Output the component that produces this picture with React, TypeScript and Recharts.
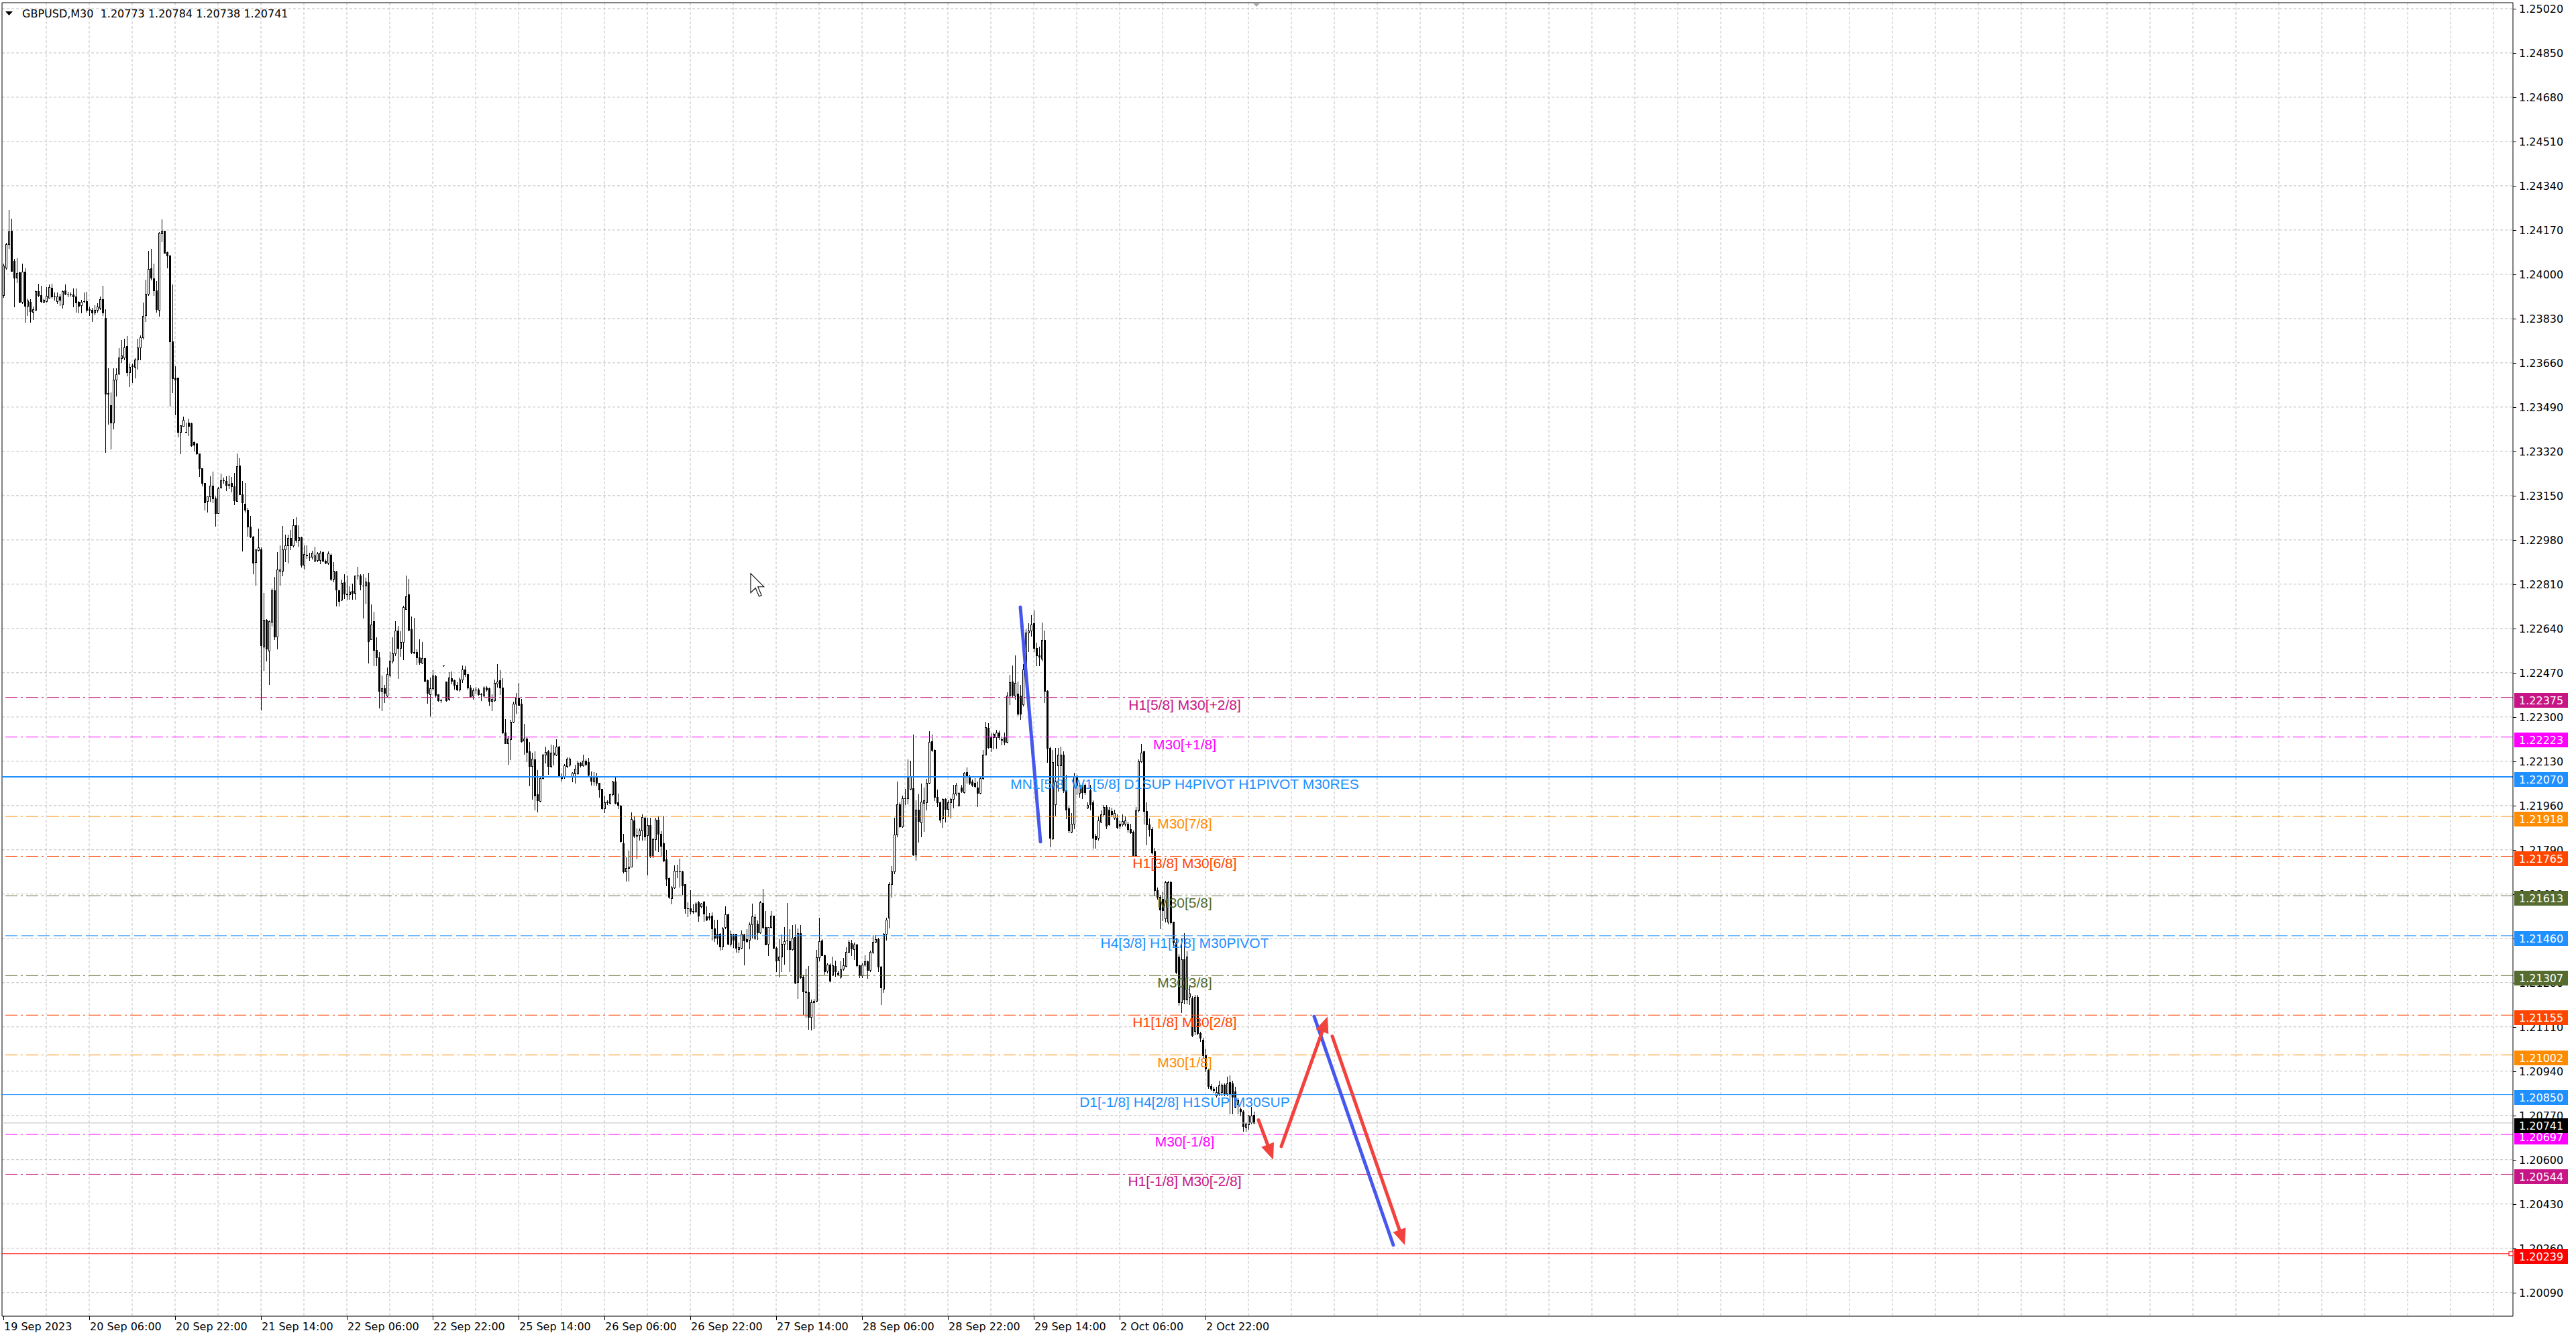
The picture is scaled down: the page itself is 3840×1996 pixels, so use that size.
import React from "react";
import {
  ComposedChart,
  Bar,
  XAxis,
  YAxis,
  CartesianGrid,
  ReferenceLine,
  ReferenceDot,
} from "recharts";

type Ohlc = [number, number, number, number];

// GBPUSD M30 bars, [open, high, low, close] in points above 1.20000
const sep19: Ohlc[] = [
  [3920, 4042, 3913, 4033], [4026, 4120, 4020, 4116], [4116, 4248, 4100, 4165], [4167, 4214, 4013, 4013],
  [4051, 4059, 3875, 3987], [3987, 4062, 3969, 4006], [4008, 4010, 3892, 3894], [3894, 4040, 3888, 4010],
  [4010, 4023, 3817, 3878], [3878, 3907, 3843, 3900], [3894, 3905, 3817, 3858], [3856, 3875, 3827, 3865],
  [3862, 3939, 3862, 3935], [3935, 3963, 3914, 3920], [3920, 3956, 3892, 3897], [3894, 3907, 3892, 3901],
  [3897, 3952, 3894, 3916], [3910, 3961, 3910, 3952], [3948, 3963, 3910, 3914], [3917, 3929, 3901, 3916],
];
const sep20: Ohlc[] = [
  [3897, 3929, 3888, 3914], [3914, 3926, 3881, 3903], [3884, 3938, 3871, 3935], [3939, 3961, 3923, 3926],
  [3925, 3933, 3914, 3924], [3923, 3930, 3916, 3922], [3923, 3946, 3875, 3914], [3914, 3946, 3856, 3892],
  [3894, 3897, 3853, 3878], [3881, 3901, 3853, 3894], [3896, 3929, 3892, 3897], [3897, 3933, 3856, 3862],
  [3865, 3875, 3843, 3864], [3862, 3871, 3820, 3853], [3853, 3881, 3845, 3862], [3862, 3888, 3856, 3875],
  [3871, 3914, 3866, 3905], [3905, 3956, 3843, 3853], [3832, 3866, 3318, 3542], [3543, 3639, 3424, 3542],
  [3497, 3546, 3331, 3430], [3430, 3639, 3407, 3595], [3595, 3639, 3533, 3617], [3619, 3716, 3617, 3679],
  [3678, 3746, 3662, 3688], [3679, 3752, 3672, 3720], [3724, 3762, 3610, 3623], [3623, 3656, 3569, 3645],
  [3649, 3656, 3585, 3648], [3645, 3677, 3604, 3672], [3672, 3752, 3636, 3720], [3720, 3765, 3672, 3757],
  [3757, 3891, 3752, 3840], [3843, 3978, 3819, 3925], [3925, 4090, 3920, 4020], [4023, 4097, 3978, 3987],
  [3984, 4042, 3920, 3939], [3939, 3974, 3855, 3866], [3862, 4162, 3840, 4160], [4158, 4210, 4126, 4167],
  [4167, 4168, 4081, 4083], [4084, 4087, 4026, 4072], [4072, 4075, 3495, 3742], [3742, 3961, 3546, 3600],
  [3604, 3647, 3462, 3595], [3604, 3604, 3376, 3394], [3394, 3420, 3312, 3420], [3417, 3453, 3417, 3440],
];
const sep21: Ohlc[] = [
  [3395, 3430, 3391, 3394], [3430, 3446, 3381, 3417], [3428, 3430, 3340, 3343], [3355, 3359, 3321, 3346],
  [3350, 3350, 3308, 3312], [3312, 3312, 3224, 3256], [3256, 3256, 3188, 3198], [3198, 3198, 3095, 3124],
  [3128, 3147, 3089, 3147], [3147, 3224, 3128, 3188], [3188, 3243, 3124, 3140], [3140, 3147, 3033, 3082],
  [3082, 3183, 3082, 3179], [3183, 3234, 3179, 3209], [3209, 3218, 3198, 3210], [3205, 3224, 3170, 3192],
  [3192, 3227, 3179, 3193], [3198, 3222, 3166, 3185], [3185, 3237, 3115, 3131], [3128, 3312, 3128, 3263],
  [3265, 3295, 3156, 3156], [3156, 3205, 2938, 3124], [3118, 3198, 3089, 3095], [3095, 3102, 2995, 3031],
  [3031, 3072, 2990, 2992], [2992, 2995, 2851, 2892], [2894, 2943, 2806, 2943], [2941, 3024, 2938, 2951],
  [2943, 2951, 2329, 2574], [2570, 2776, 2480, 2673], [2673, 2676, 2516, 2561], [2554, 2670, 2426, 2668],
  [2664, 2793, 2651, 2786], [2786, 2838, 2599, 2608], [2608, 2934, 2561, 2866], [2861, 2960, 2806, 2866],
  [2861, 3033, 2844, 2943], [2943, 2999, 2896, 2960], [2960, 2999, 2892, 2986], [2986, 3018, 2943, 2959],
  [2959, 3059, 2954, 3037], [3037, 3067, 2973, 2979], [2979, 3037, 2956, 2990], [2990, 2992, 2876, 2883],
  [2883, 2960, 2870, 2925], [2921, 2960, 2909, 2922], [2915, 2930, 2902, 2914], [2915, 2938, 2908, 2930],
];
const sep22: Ohlc[] = [
  [2900, 2953, 2896, 2921], [2902, 2934, 2896, 2928], [2902, 2938, 2889, 2930], [2934, 2936, 2897, 2899],
  [2899, 2905, 2890, 2893], [2893, 2936, 2888, 2928], [2922, 2928, 2825, 2830], [2830, 2894, 2819, 2861],
  [2859, 2861, 2727, 2788], [2786, 2790, 2727, 2746], [2750, 2828, 2748, 2815], [2816, 2848, 2756, 2773],
  [2773, 2842, 2752, 2772], [2770, 2802, 2752, 2782], [2784, 2813, 2752, 2775], [2775, 2844, 2752, 2842],
  [2842, 2876, 2830, 2843], [2844, 2848, 2790, 2810], [2805, 2848, 2681, 2804], [2804, 2836, 2738, 2819],
  [2817, 2853, 2508, 2591], [2598, 2733, 2598, 2656], [2669, 2704, 2497, 2557], [2557, 2606, 2497, 2529],
  [2529, 2549, 2336, 2399], [2399, 2460, 2324, 2411], [2411, 2422, 2357, 2393], [2382, 2491, 2380, 2465],
  [2462, 2549, 2453, 2517], [2517, 2606, 2508, 2545], [2545, 2669, 2537, 2633], [2633, 2649, 2449, 2566],
  [2566, 2629, 2534, 2589], [2587, 2727, 2522, 2721], [2715, 2842, 2713, 2764], [2770, 2830, 2633, 2635],
  [2637, 2687, 2545, 2549], [2549, 2681, 2543, 2548], [2549, 2560, 2503, 2529], [2529, 2598, 2503, 2511],
  [2508, 2589, 2506, 2526], [2526, 2526, 2437, 2439], [2442, 2445, 2353, 2391], [2388, 2451, 2304, 2411],
  [2411, 2480, 2405, 2460], [2457, 2462, 2376, 2384], [2388, 2388, 2361, 2365], [2365, 2370, 2357, 2364],
];
const sep25: Ohlc[] = [
  [2497, 2499, 2495, 2497], [2437, 2437, 2361, 2364], [2368, 2471, 2365, 2451], [2448, 2474, 2428, 2439],
  [2442, 2445, 2407, 2422], [2422, 2434, 2402, 2405], [2405, 2451, 2399, 2445], [2445, 2497, 2434, 2483],
  [2483, 2495, 2457, 2465], [2465, 2465, 2407, 2414], [2414, 2422, 2376, 2380], [2382, 2411, 2370, 2402],
  [2405, 2416, 2391, 2404], [2405, 2411, 2384, 2388], [2388, 2393, 2365, 2387], [2382, 2419, 2380, 2414],
  [2414, 2419, 2399, 2405], [2411, 2414, 2345, 2361], [2361, 2388, 2324, 2368], [2365, 2445, 2361, 2430],
  [2428, 2503, 2416, 2437], [2442, 2480, 2388, 2414], [2414, 2448, 2238, 2241], [2241, 2292, 2198, 2200],
  [2200, 2227, 2120, 2218], [2215, 2290, 2138, 2281], [2281, 2359, 2278, 2350], [2350, 2393, 2315, 2373],
  [2373, 2430, 2345, 2347], [2350, 2370, 2204, 2207], [2210, 2273, 2158, 2218], [2218, 2221, 2129, 2166],
  [2169, 2204, 2037, 2112], [2112, 2163, 1985, 2140], [2138, 2169, 1945, 1997], [2002, 2097, 1936, 1979],
  [1977, 2071, 1974, 2066], [2066, 2158, 2062, 2154], [2154, 2186, 2123, 2166], [2169, 2172, 2080, 2112],
  [2112, 2195, 2106, 2163], [2154, 2192, 2117, 2163], [2154, 2215, 2152, 2186], [2186, 2189, 2071, 2074],
  [2074, 2083, 2054, 2066], [2069, 2120, 2066, 2115], [2112, 2146, 2106, 2140], [2117, 2146, 2112, 2140],
];
const sep26: Ohlc[] = [
  [2074, 2089, 2051, 2085], [2083, 2117, 2048, 2100], [2083, 2131, 2080, 2123], [2123, 2126, 2108, 2115],
  [2115, 2154, 2112, 2131], [2131, 2138, 2115, 2120], [2126, 2143, 2069, 2077], [2074, 2092, 2039, 2054],
  [2051, 2089, 2039, 2071], [2074, 2085, 2037, 2046], [2046, 2048, 1993, 2020], [2023, 2023, 1947, 1950],
  [1950, 1997, 1933, 1973], [1973, 1979, 1965, 1974], [1970, 2005, 1968, 2002], [2002, 2054, 1999, 2051],
  [2051, 2069, 1966, 1970], [1973, 2005, 1950, 1962], [1959, 1962, 1821, 1824], [1816, 1850, 1701, 1706],
  [1706, 1761, 1671, 1721], [1721, 1786, 1671, 1726], [1726, 1933, 1724, 1908], [1904, 1922, 1839, 1844],
  [1845, 1873, 1757, 1843], [1845, 1873, 1827, 1864], [1864, 1925, 1827, 1916], [1914, 1919, 1827, 1842],
  [1845, 1914, 1695, 1885], [1885, 1912, 1762, 1765], [1767, 1836, 1762, 1831], [1831, 1912, 1790, 1905],
  [1905, 1919, 1785, 1850], [1850, 1861, 1767, 1804], [1815, 1922, 1746, 1748], [1753, 1790, 1654, 1679],
  [1682, 1684, 1603, 1608], [1605, 1651, 1584, 1645], [1645, 1730, 1642, 1709], [1707, 1734, 1684, 1706],
  [1707, 1757, 1647, 1706], [1706, 1709, 1619, 1654], [1658, 1658, 1547, 1564], [1566, 1589, 1534, 1565],
  [1566, 1636, 1545, 1554], [1552, 1582, 1547, 1556], [1554, 1589, 1550, 1584], [1589, 1593, 1517, 1538],
];
const sep27: Ohlc[] = [
  [1573, 1587, 1568, 1584], [1591, 1593, 1517, 1545], [1534, 1573, 1519, 1522], [1534, 1547, 1522, 1528],
  [1536, 1550, 1444, 1488], [1488, 1522, 1439, 1453], [1467, 1522, 1430, 1451], [1467, 1471, 1405, 1418],
  [1418, 1492, 1409, 1488], [1492, 1573, 1488, 1543], [1543, 1545, 1427, 1430], [1430, 1479, 1420, 1467],
  [1464, 1467, 1416, 1445], [1467, 1467, 1399, 1414], [1409, 1434, 1396, 1416], [1414, 1481, 1411, 1467],
  [1464, 1467, 1350, 1442], [1446, 1485, 1434, 1439], [1444, 1510, 1411, 1504], [1504, 1584, 1451, 1534],
  [1451, 1541, 1446, 1531], [1506, 1519, 1448, 1473], [1473, 1593, 1469, 1589], [1587, 1639, 1488, 1492],
  [1492, 1556, 1425, 1427], [1430, 1494, 1386, 1492], [1492, 1556, 1490, 1536], [1536, 1538, 1411, 1414],
  [1414, 1418, 1324, 1365], [1368, 1448, 1303, 1381], [1381, 1464, 1324, 1430], [1430, 1494, 1351, 1439],
  [1442, 1587, 1407, 1441], [1439, 1485, 1324, 1407], [1407, 1501, 1405, 1453], [1455, 1504, 1277, 1279],
  [1282, 1488, 1220, 1471], [1471, 1501, 1298, 1301], [1303, 1310, 1159, 1245], [1245, 1333, 1148, 1242],
  [1242, 1344, 1102, 1148], [1148, 1215, 1100, 1205], [1205, 1218, 1104, 1211], [1211, 1406, 1208, 1377],
  [1377, 1528, 1365, 1439], [1442, 1446, 1384, 1386], [1386, 1388, 1313, 1324], [1326, 1353, 1319, 1349],
];
const sep28: Ohlc[] = [
  [1349, 1353, 1285, 1287], [1310, 1381, 1307, 1347], [1344, 1365, 1305, 1322], [1319, 1326, 1307, 1313],
  [1303, 1362, 1298, 1331], [1333, 1374, 1328, 1347], [1344, 1416, 1342, 1399], [1399, 1445, 1395, 1436],
  [1432, 1445, 1386, 1411], [1409, 1434, 1370, 1425], [1425, 1430, 1340, 1347], [1347, 1349, 1301, 1307],
  [1307, 1353, 1301, 1349], [1349, 1384, 1344, 1362], [1362, 1365, 1298, 1328], [1328, 1402, 1324, 1397],
  [1397, 1462, 1393, 1436], [1436, 1462, 1434, 1448], [1448, 1451, 1322, 1340], [1340, 1344, 1196, 1261],
  [1257, 1471, 1242, 1467], [1467, 1528, 1444, 1522], [1528, 1665, 1490, 1658], [1658, 1728, 1610, 1707],
  [1707, 1913, 1700, 1848], [1848, 2051, 1842, 1965], [1965, 1972, 1876, 1879], [1879, 1999, 1876, 1988],
  [1988, 2025, 1965, 1987], [1988, 2136, 1968, 2071], [2025, 2131, 2021, 2071], [2027, 2233, 1769, 1771],
  [1771, 1979, 1750, 1944], [1944, 2002, 1820, 1900], [1896, 2044, 1840, 1974], [1971, 2030, 1861, 1979],
  [1972, 2062, 1944, 2048], [2048, 2245, 2044, 2205], [2208, 2233, 2168, 2173], [2173, 2177, 1979, 1993],
  [1993, 2021, 1956, 1972], [1972, 1974, 1896, 1905], [1910, 1988, 1876, 1984], [1986, 1988, 1898, 1947],
  [1947, 1979, 1919, 1972], [1972, 1990, 1912, 1986], [1986, 2039, 1951, 2005], [2005, 2048, 2000, 2039],
];
const sep29: Ohlc[] = [
  [1962, 2012, 1958, 2008], [2030, 2039, 2012, 2016], [2012, 2089, 2008, 2086], [2089, 2106, 2048, 2075],
  [2073, 2079, 2043, 2048], [2052, 2059, 2035, 2039], [2048, 2066, 2030, 2035], [2030, 2052, 1958, 2008],
  [2008, 2073, 2005, 2066], [2066, 2174, 2059, 2154], [2156, 2281, 2154, 2261], [2259, 2275, 2180, 2183],
  [2224, 2237, 2167, 2183], [2221, 2241, 2178, 2234], [2221, 2250, 2180, 2241], [2241, 2248, 2214, 2221],
  [2214, 2224, 2194, 2213], [2221, 2241, 2194, 2205], [2205, 2396, 2201, 2383], [2383, 2463, 2349, 2434],
  [2436, 2497, 2376, 2385], [2383, 2537, 2369, 2430], [2389, 2436, 2308, 2312], [2383, 2423, 2291, 2312],
  [2349, 2504, 2342, 2483], [2483, 2638, 2477, 2625], [2625, 2659, 2551, 2632], [2632, 2690, 2611, 2655],
  [2659, 2710, 2551, 2564], [2564, 2585, 2497, 2537], [2537, 2571, 2497, 2531], [2524, 2663, 2517, 2595],
  [2595, 2632, 2356, 2399], [2399, 2403, 2127, 2180], [2180, 2187, 1801, 1837], [1833, 2174, 1831, 2127],
  [1965, 2180, 1924, 2052], [2113, 2180, 2016, 2156], [2115, 2187, 2073, 2156], [2156, 2167, 2012, 2019],
  [2019, 2079, 1911, 1945], [1949, 1958, 1857, 1864], [1860, 1931, 1857, 1891], [1891, 2086, 1871, 2073],
  [2073, 2079, 2003, 2039], [2008, 2048, 1992, 2039], [2039, 2045, 1989, 2012], [2039, 2045, 2003, 2012],
];
const oct02: Ohlc[] = [
  [1951, 1972, 1948, 1962], [2019, 2039, 1945, 1965], [1972, 1981, 1797, 1837], [1844, 1850, 1797, 1830],
  [1837, 1918, 1828, 1904], [1898, 1941, 1895, 1925], [1925, 1962, 1922, 1954], [1954, 1962, 1873, 1881],
  [1945, 1954, 1884, 1887], [1938, 1951, 1918, 1925], [1914, 1945, 1908, 1931], [1914, 1925, 1871, 1877],
  [1891, 1900, 1873, 1881], [1887, 1927, 1881, 1900], [1891, 1918, 1881, 1904], [1891, 1898, 1860, 1868],
  [1870, 1891, 1854, 1857], [1860, 1864, 1765, 1770], [1770, 1954, 1765, 1941], [1941, 2137, 1935, 2129],
  [2129, 2197, 2127, 2164], [2167, 2170, 1891, 1938], [1938, 1972, 1810, 1887], [1887, 1911, 1844, 1868],
  [1870, 1877, 1774, 1779], [1783, 1796, 1615, 1635], [1635, 1644, 1601, 1608], [1608, 1617, 1487, 1561],
  [1601, 1628, 1520, 1558], [1527, 1671, 1514, 1666], [1514, 1671, 1507, 1666], [1666, 1671, 1507, 1510],
  [1514, 1514, 1419, 1433], [1433, 1453, 1316, 1321], [1380, 1390, 1195, 1205], [1205, 1450, 1165, 1370],
  [1370, 1470, 1200, 1215], [1215, 1400, 1200, 1380], [1224, 1267, 1198, 1237], [1220, 1228, 1074, 1078],
  [1095, 1232, 1082, 1224], [1224, 1232, 1082, 1086], [1086, 1090, 1056, 1069], [1060, 1069, 992, 1001],
  [1001, 1026, 940, 950], [945, 950, 876, 883], [883, 890, 868, 873], [873, 880, 860, 866],
];
const oct03: Ohlc[] = [
  [846, 880, 842, 859], [855, 904, 846, 885], [859, 893, 846, 889], [889, 893, 846, 855],
  [855, 919, 846, 893], [899, 923, 777, 855], [893, 902, 777, 842], [863, 880, 799, 803],
  [829, 837, 777, 812], [795, 799, 769, 784], [784, 790, 709, 728], [726, 743, 709, 739],
  [736, 773, 717, 769], [743, 803, 739, 770], [773, 784, 738, 741],
];

const dateLabels = [
  "19 Sep 2023", "20 Sep 06:00", "20 Sep 22:00", "21 Sep 14:00", "22 Sep 06:00",
  "22 Sep 22:00", "25 Sep 14:00", "26 Sep 06:00", "26 Sep 22:00", "27 Sep 14:00",
  "28 Sep 06:00", "28 Sep 22:00", "29 Sep 14:00", "2 Oct 06:00", "2 Oct 22:00",
];
const dateLabelBars = [0, 32, 64, 96, 128, 160, 192, 224, 256, 288, 320, 352, 384, 416, 448];

const priceTicks = [
  1.2502, 1.2485, 1.2468, 1.2451, 1.2434, 1.2417, 1.24, 1.2383, 1.2366, 1.2349,
  1.2332, 1.2315, 1.2298, 1.2281, 1.2264, 1.2247, 1.223, 1.2213, 1.2196, 1.2179,
  1.2162, 1.2145, 1.2128, 1.2111, 1.2094, 1.2077, 1.206, 1.2043, 1.2026, 1.2009,
];

const levelPrices = [
  1.22375, 1.22223, 1.2207, 1.21918, 1.21765, 1.21613, 1.2146,
  1.21307, 1.21155, 1.21002, 1.2085, 1.20697, 1.20544,
];
const levelNames = [
  "H1[5/8] M30[+2/8]",
  "M30[+1/8]",
  "MN1[5/8] W1[5/8] D1SUP H4PIVOT H1PIVOT M30RES",
  "M30[7/8]",
  "H1[3/8] M30[6/8]",
  "M30[5/8]",
  "H4[3/8] H1[2/8] M30PIVOT",
  "M30[3/8]",
  "H1[1/8] M30[2/8]",
  "M30[1/8]",
  "D1[-1/8] H4[2/8] H1SUP M30SUP",
  "M30[-1/8]",
  "H1[-1/8] M30[-2/8]",
];
const targetPrice = 1.20239;

// hand-drawn swing line and forecast arrows: [bar, price] end points
const swingLine: [number, number][] = [[379, 1.22722], [386.5, 1.21821]];
const forecastBlue: [number, number][] = [[488.5, 1.2115], [518, 1.20272]];
const forecastRed: [number, number][][] = [
  [[467.75, 1.20752], [473.25, 1.206]],
  [[476.25, 1.20651], [493.5, 1.2115]],
  [[495.25, 1.21074], [522.25, 1.20272]],
];
const cursorAt: [number, number] = [278.5, 1.22851];

// ---- styles ----
const levelColors = [
  "#C71585", "#FF00FF", "#1E90FF", "#FF8C00", "#FF4500", "#556B2F", "#1E90FF",
  "#556B2F", "#FF4500", "#FF8C00", "#1E90FF", "#FF00FF", "#C71585",
];
const DASHDOT = "18 5 3 5";
const levelDash = [
  DASHDOT, DASHDOT, undefined, DASHDOT, DASHDOT, DASHDOT, "18 6",
  DASHDOT, DASHDOT, DASHDOT, undefined, DASHDOT, DASHDOT,
];
const levelWidth = [1, 1, 2, 1, 1, 1, 1, 1, 1, 1, 1, 1, 1];

const W = 3840;
const H = 1996;
const X_MIN = -0.5;
const X_MAX = 935.25;
const Y_MIN = 1.19999;
const Y_MAX = 1.25043;
const LABEL_BAR = 440.25;
const AXIS_FONT = "'DejaVu Sans', Verdana, sans-serif";
const LABEL_FONT = "'Liberation Sans', Arial, sans-serif";
const RED = "#F2423E";
const BLUE = "#4657EE";

const PT = 0.00001;
const candles = [sep19, sep20, sep21, sep22, sep25, sep26, sep27, sep28, sep29, oct02, oct03]
  .flat()
  .map(([o, h, l, c], i) => ({
    i,
    open: 1.2 + o * PT,
    high: 1.2 + h * PT,
    low: 1.2 + l * PT,
    close: 1.2 + c * PT,
    range: [1.2 + l * PT, 1.2 + h * PT],
  }));
const last = candles[candles.length - 1];

const gridBars = Array.from({ length: 58 }, (_, k) => (k + 1) * 16);

const boxPrices = [...levelPrices, targetPrice, last.close];
const boxColors = [...levelColors, "#FF0000", "#000000"];

function Candle(props: any) {
  const { x, y, width, height, payload } = props;
  if (x == null || y == null || !payload) return null;
  const top = Math.min(y, y + height);
  const span = Math.abs(height);
  const k = payload.high > payload.low ? span / (payload.high - payload.low) : 0;
  const toY = (v: number) => Math.round(top + (payload.high - v) * k);
  const cx = Math.round(x + width / 2);
  const yH = toY(payload.high);
  const yL = toY(payload.low);
  const yO = toY(payload.open);
  const yC = toY(payload.close);
  const bTop = Math.min(yO, yC);
  const bBot = Math.max(yO, yC);
  const bull = payload.close >= payload.open;
  let body;
  if (bBot - bTop < 1) {
    body = <rect x={cx - 1} y={bTop} width={3} height={1} fill="#000" />;
  } else if (bull) {
    body = (
      <rect x={cx - 0.5} y={bTop + 0.5} width={2} height={bBot - bTop} fill="#fff" stroke="#000" strokeWidth={1} />
    );
  } else {
    body = <rect x={cx - 1} y={bTop} width={3} height={bBot - bTop + 1} fill="#000" />;
  }
  return (
    <g>
      <rect x={cx} y={yH} width={1} height={Math.max(yL - yH + 1, 1)} fill="#000" />
      {body}
    </g>
  );
}

function DateTick(props: any) {
  const { x, y, payload } = props;
  const idx = dateLabelBars.indexOf(payload.value);
  if (idx < 0) return null;
  const px = Math.round(x);
  return (
    <g>
      <rect x={px} y={y} width={1} height={6} fill="#000" />
      <text x={px + 1} y={y + 21} fontSize={16} fontFamily={AXIS_FONT} fill="#000">
        {dateLabels[idx]}
      </text>
    </g>
  );
}

function PriceTick(props: any) {
  const { x, y, payload } = props;
  const v = payload.value as number;
  const bi = boxPrices.findIndex((p) => Math.abs(p - v) < 1e-7);
  const py = Math.round(y);
  if (bi >= 0) {
    return (
      <g>
        <rect x={x + 2} y={py - 7} width={80} height={22} fill={boxColors[bi]} />
        <text x={x + 9} y={py + 10} fontSize={16} fontFamily={AXIS_FONT} fill="#fff">
          {v.toFixed(5)}
        </text>
      </g>
    );
  }
  return (
    <g>
      <rect x={x} y={py} width={5} height={1} fill="#000" />
      <text x={x + 9} y={py + 6} fontSize={16} fontFamily={AXIS_FONT} fill="#000">
        {v.toFixed(5)}
      </text>
    </g>
  );
}

function Arrow(props: any) {
  const { x1, y1, x2, y2, color, head } = props;
  if (x1 == null) return null;
  const dx = x2 - x1;
  const dy = y2 - y1;
  const len = Math.hypot(dx, dy) || 1;
  const ux = dx / len;
  const uy = dy / len;
  const hl = head ? 24 : 0;
  const hw = 10;
  const bx = x2 - ux * hl;
  const by = y2 - uy * hl;
  return (
    <g>
      <line x1={x1} y1={y1} x2={bx} y2={by} stroke={color} strokeWidth={5} strokeLinecap="round" />
      {head && (
        <polygon
          points={`${x2},${y2} ${bx - uy * hw},${by + ux * hw} ${bx + uy * hw},${by - ux * hw}`}
          fill={color}
        />
      )}
    </g>
  );
}

export default function App() {
  return (
    <div style={{ position: "absolute", left: 0, top: 0, width: W, height: H, background: "#fff", overflow: "hidden" }}>
      <ComposedChart
        width={W}
        height={H}
        data={candles}
        margin={{ top: 4, right: 0, bottom: 0, left: 3 }}
      >
        <CartesianGrid
          stroke="#C0C0C0"
          strokeDasharray="4 3"
          horizontalValues={priceTicks}
          verticalValues={gridBars}
        />
        <XAxis
          dataKey="i"
          type="number"
          domain={[X_MIN, X_MAX]}
          allowDataOverflow
          ticks={dateLabelBars}
          interval={0}
          height={34}
          tickLine={false}
          tickSize={0}
          tickMargin={0}
          axisLine={{ stroke: "#000" }}
          tick={(p: any) => <DateTick {...p} />}
        />
        <YAxis
          orientation="right"
          type="number"
          domain={[Y_MIN, Y_MAX]}
          allowDataOverflow
          ticks={[...priceTicks, ...boxPrices]}
          interval={0}
          width={94}
          tickLine={false}
          tickSize={0}
          tickMargin={0}
          axisLine={{ stroke: "#000" }}
          tick={(p: any) => <PriceTick {...p} />}
        />
        <ReferenceLine y={Y_MAX} stroke="#000" strokeWidth={1} />
        <ReferenceLine x={X_MIN} stroke="#000" strokeWidth={1} />
        {levelPrices.map((p, k) => (
          <ReferenceLine
            key={"lv" + k}
            y={p}
            stroke={levelColors[k]}
            strokeWidth={levelWidth[k]}
            strokeDasharray={levelDash[k]}
          />
        ))}
        <ReferenceLine y={last.close} stroke="#C0C0C0" strokeWidth={1} />
        <ReferenceLine y={targetPrice} stroke="#FF0000" strokeWidth={1} />
        <ReferenceDot
          x={934.5}
          y={targetPrice}
          r={3}
          shape={(p: any) => (
            <rect x={p.cx - 3} y={p.cy - 3} width={6} height={6} fill="#fff" stroke="#FF0000" strokeWidth={1} />
          )}
        />
        {levelPrices.map((p, k) => (
          <ReferenceDot
            key={"lt" + k}
            x={LABEL_BAR}
            y={p}
            r={0}
            shape={(d: any) => (
              <text
                x={d.cx}
                y={d.cy + 18}
                textAnchor="middle"
                fontSize={21}
                fontFamily={LABEL_FONT}
                fill={levelColors[k]}
              >
                {levelNames[k]}
              </text>
            )}
          />
        ))}
        <Bar dataKey="range" barSize={3} isAnimationActive={false} shape={(p: any) => <Candle {...p} />} />
        <ReferenceLine
          segment={[{ x: swingLine[0][0], y: swingLine[0][1] }, { x: swingLine[1][0], y: swingLine[1][1] }]}
          shape={(p: any) => <Arrow {...p} color={BLUE} head={false} />}
        />
        <ReferenceLine
          segment={[{ x: forecastBlue[0][0], y: forecastBlue[0][1] }, { x: forecastBlue[1][0], y: forecastBlue[1][1] }]}
          shape={(p: any) => <Arrow {...p} color={BLUE} head={false} />}
        />
        {forecastRed.map((seg, k) => (
          <ReferenceLine
            key={"fr" + k}
            segment={[{ x: seg[0][0], y: seg[0][1] }, { x: seg[1][0], y: seg[1][1] }]}
            shape={(p: any) => <Arrow {...p} color={RED} head />}
          />
        ))}
        <ReferenceDot
          x={cursorAt[0]}
          y={cursorAt[1]}
          r={0}
          shape={(p: any) => (
            <path
              transform={`translate(${p.cx},${p.cy}) scale(1.8)`}
              d="M0 0 L0 16 L4 12 L7 19 L9 18 L6 11 L11 11 Z"
              fill="#fff"
              stroke="#000"
              strokeWidth={0.6}
            />
          )}
        />
        <ReferenceDot
          x={467}
          y={Y_MAX}
          r={0}
          ifOverflow="visible"
          shape={(p: any) => (
            <polygon points={`${p.cx - 6},${p.cy} ${p.cx + 6},${p.cy} ${p.cx},${p.cy + 6}`} fill="#A8A8A8" />
          )}
        />
      </ComposedChart>
      <svg width={520} height={36} style={{ position: "absolute", left: 0, top: 0 }}>
        <polygon points="8,17 19,17 13.5,23" fill="#000" />
        <text x={33} y={26} fontSize={16} fontFamily={AXIS_FONT} fill="#000" style={{ whiteSpace: "pre" }}>
          {`GBPUSD,M30  ${last.open.toFixed(5)} ${last.high.toFixed(5)} ${last.low.toFixed(5)} ${last.close.toFixed(5)}`}
        </text>
      </svg>
    </div>
  );
}
